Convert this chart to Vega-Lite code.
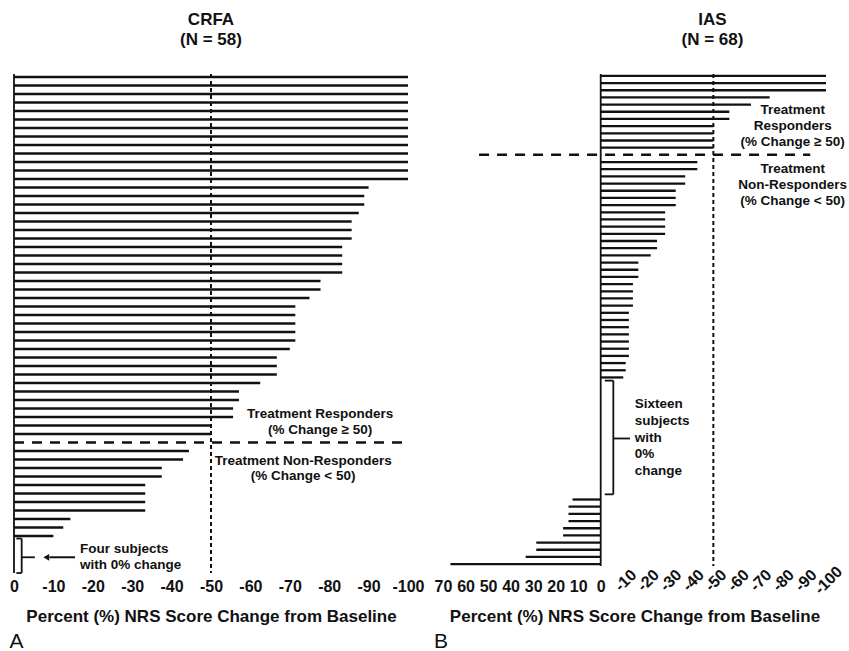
{
  "$schema": "https://vega.github.io/schema/vega-lite/v6.json",
  "background": "white",
  "padding": {"left": 9, "top": 11, "right": 0, "bottom": 0},
  "spacing": 9,
  "config": {
    "font": "Liberation Sans",
    "view": {"stroke": null},
    "axis": {"labelOverlap": false, "labelFlush": false, "ticks": false, "domain": false, "grid": false},
    "text": {"font": "Liberation Sans", "fontWeight": "bold", "color": "#111"}
  },
  "datasets": {
    "crfa": [
      {"id": "A01", "change": -100}, {"id": "A02", "change": -100}, {"id": "A03", "change": -100},
      {"id": "A04", "change": -100}, {"id": "A05", "change": -100}, {"id": "A06", "change": -100},
      {"id": "A07", "change": -100}, {"id": "A08", "change": -100}, {"id": "A09", "change": -100},
      {"id": "A10", "change": -100}, {"id": "A11", "change": -100}, {"id": "A12", "change": -100},
      {"id": "A13", "change": -100}, {"id": "A14", "change": -90}, {"id": "A15", "change": -88.9},
      {"id": "A16", "change": -88.9}, {"id": "A17", "change": -87.5}, {"id": "A18", "change": -85.7},
      {"id": "A19", "change": -85.7}, {"id": "A20", "change": -85.7}, {"id": "A21", "change": -83.3},
      {"id": "A22", "change": -83.3}, {"id": "A23", "change": -83.3}, {"id": "A24", "change": -83.3},
      {"id": "A25", "change": -77.8}, {"id": "A26", "change": -77.8}, {"id": "A27", "change": -75},
      {"id": "A28", "change": -71.4}, {"id": "A29", "change": -71.4}, {"id": "A30", "change": -71.4},
      {"id": "A31", "change": -71.4}, {"id": "A32", "change": -71.4}, {"id": "A33", "change": -70},
      {"id": "A34", "change": -66.7}, {"id": "A35", "change": -66.7}, {"id": "A36", "change": -66.7},
      {"id": "A37", "change": -62.5}, {"id": "A38", "change": -57.1}, {"id": "A39", "change": -57.1},
      {"id": "A40", "change": -55.6}, {"id": "A41", "change": -55.6}, {"id": "A42", "change": -50},
      {"id": "A43", "change": -50}, {"id": "A44", "change": -44.4}, {"id": "A45", "change": -42.9},
      {"id": "A46", "change": -37.5}, {"id": "A47", "change": -37.5}, {"id": "A48", "change": -33.3},
      {"id": "A49", "change": -33.3}, {"id": "A50", "change": -33.3}, {"id": "A51", "change": -33.3},
      {"id": "A52", "change": -14.3}, {"id": "A53", "change": -12.5}, {"id": "A54", "change": -10},
      {"id": "A55", "change": 0}, {"id": "A56", "change": 0}, {"id": "A57", "change": 0},
      {"id": "A58", "change": 0}
    ],
    "ias": [
      {"id": "B01", "change": -100}, {"id": "B02", "change": -100}, {"id": "B03", "change": -100},
      {"id": "B04", "change": -75}, {"id": "B05", "change": -66.7}, {"id": "B06", "change": -57.1},
      {"id": "B07", "change": -57.1}, {"id": "B08", "change": -50}, {"id": "B09", "change": -50},
      {"id": "B10", "change": -50}, {"id": "B11", "change": -50}, {"id": "B12", "change": -42.9},
      {"id": "B13", "change": -42.9}, {"id": "B14", "change": -37.5}, {"id": "B15", "change": -37.5},
      {"id": "B16", "change": -33.3}, {"id": "B17", "change": -33.3}, {"id": "B18", "change": -33.3},
      {"id": "B19", "change": -28.6}, {"id": "B20", "change": -28.6}, {"id": "B21", "change": -28.6},
      {"id": "B22", "change": -28.6}, {"id": "B23", "change": -25}, {"id": "B24", "change": -25},
      {"id": "B25", "change": -22.2}, {"id": "B26", "change": -16.7}, {"id": "B27", "change": -16.7},
      {"id": "B28", "change": -16.7}, {"id": "B29", "change": -14.3}, {"id": "B30", "change": -14.3},
      {"id": "B31", "change": -14.3}, {"id": "B32", "change": -14.3}, {"id": "B33", "change": -12.5},
      {"id": "B34", "change": -12.5}, {"id": "B35", "change": -12.5}, {"id": "B36", "change": -12.5},
      {"id": "B37", "change": -12.5}, {"id": "B38", "change": -12.5}, {"id": "B39", "change": -12.5},
      {"id": "B40", "change": -11.1}, {"id": "B41", "change": -11.1}, {"id": "B42", "change": -10},
      {"id": "B43", "change": 0}, {"id": "B44", "change": 0}, {"id": "B45", "change": 0},
      {"id": "B46", "change": 0}, {"id": "B47", "change": 0}, {"id": "B48", "change": 0},
      {"id": "B49", "change": 0}, {"id": "B50", "change": 0}, {"id": "B51", "change": 0},
      {"id": "B52", "change": 0}, {"id": "B53", "change": 0}, {"id": "B54", "change": 0},
      {"id": "B55", "change": 0}, {"id": "B56", "change": 0}, {"id": "B57", "change": 0},
      {"id": "B58", "change": 0}, {"id": "B59", "change": 12.5}, {"id": "B60", "change": 14.3},
      {"id": "B61", "change": 14.3}, {"id": "B62", "change": 14.3}, {"id": "B63", "change": 16.7},
      {"id": "B64", "change": 16.7}, {"id": "B65", "change": 28.6}, {"id": "B66", "change": 28.6},
      {"id": "B67", "change": 33.3}, {"id": "B68", "change": 66.7}
    ]
  },
  "hconcat": [
    {
      "title": {"text": "A", "orient": "bottom", "anchor": "start", "font": "Liberation Sans", "fontSize": 21, "fontWeight": "normal", "color": "#111", "offset": 7},
      "vconcat": [
        {
          "width": 394,
          "height": 499,
          "title": {"text": ["CRFA", "(N = 58)"], "font": "Liberation Sans", "fontSize": 17, "fontWeight": "bold", "color": "#111", "lineHeight": 20, "frame": "group", "anchor": "middle", "offset": 24},
          "resolve": {"axis": {"x": "independent"}},
          "layer": [
            {
              "data": {"name": "crfa"},
              "mark": {"type": "rule", "color": "#111", "strokeWidth": 2.3, "strokeCap": "butt"},
              "encoding": {
                "y": {
                  "field": "id", "type": "ordinal", "axis": null,
                  "scale": {"type": "point", "padding": 0.35, "domain": ["A01","A02","A03","A04","A05","A06","A07","A08","A09","A10","A11","A12","A13","A14","A15","A16","A17","A18","A19","A20","A21","A22","A23","A24","A25","A26","A27","A28","A29","A30","A31","A32","A33","A34","A35","A36","A37","A38","A39","A40","A41","A42","A43","Agap","A44","A45","A46","A47","A48","A49","A50","A51","A52","A53","A54","A55","A56","A57","A58"]}
                },
                "x": {
                  "field": "change", "type": "quantitative",
                  "scale": {"domain": [0, -100], "nice": false, "zero": false},
                  "axis": {
                    "orient": "bottom",
                    "values": [0, -10, -20, -30, -40, -50, -60, -70, -80, -90, -100],
                    "labelExpr": "'' + datum.value",
                    "domain": false, "ticks": false, "grid": false,
                    "labelFont": "Liberation Sans", "labelFontSize": 16, "labelFontWeight": "bold", "labelColor": "#111",
                    "labelBaseline": "middle", "labelPadding": 13, "labelFlush": false, "labelOverlap": false,
                    "title": "Percent (%) NRS Score Change from Baseline",
                    "titleFont": "Liberation Sans", "titleFontSize": 17, "titleFontWeight": "bold", "titleColor": "#111", "titlePadding": 14
                  }
                },
                "x2": {"datum": 0}
              }
            },
            {
              "data": {"values": [{}]},
              "mark": {"type": "rule", "color": "#111", "strokeWidth": 1.8},
              "encoding": {"x": {"datum": 0, "type": "quantitative", "axis": null}}
            },
            {
              "data": {"values": [{}]},
              "mark": {"type": "rule", "color": "#111", "strokeWidth": 2, "strokeDash": [4, 3]},
              "encoding": {"x": {"datum": -50, "type": "quantitative", "axis": null}}
            },
            {
              "data": {"values": [{}]},
              "mark": {"type": "rule", "color": "#111", "strokeWidth": 2.5, "strokeDash": [10, 8]},
              "encoding": {"y": {"datum": "Agap", "type": "ordinal", "axis": null}, "x": {"datum": 0, "type": "quantitative", "axis": null}, "x2": {"datum": -99}}
            },
            {
              "data": {"values": [{}]},
              "mark": {"type": "text", "text": ["Treatment Responders", "(% Change ≥ 50)"], "align": "center", "baseline": "middle", "fontSize": 13.5, "lineHeight": 16.3, "dy": -3},
              "encoding": {"x": {"datum": -77.7, "type": "quantitative", "axis": null}, "y": {"datum": "A41", "type": "ordinal", "axis": null}}
            },
            {
              "data": {"values": [{}]},
              "mark": {"type": "text", "text": ["Treatment Non-Responders", "(% Change < 50)"], "align": "center", "baseline": "middle", "fontSize": 13.5, "lineHeight": 15.7, "dy": 1},
              "encoding": {"x": {"datum": -73.4, "type": "quantitative", "axis": null}, "y": {"datum": "A45", "type": "ordinal", "axis": null}}
            },
            {
              "data": {"values": [{}]},
              "mark": {"type": "text", "text": ["Four subjects", "with 0% change"], "align": "left", "baseline": "middle", "fontSize": 13.5, "lineHeight": 16, "dy": 4},
              "encoding": {"x": {"datum": -16.75, "type": "quantitative", "axis": null}, "y": {"datum": "A55", "type": "ordinal", "axis": null}}
            },
            {
              "data": {"values": [{}]},
              "mark": {"type": "rule", "color": "#111", "strokeWidth": 1.8, "yOffset": -6, "y2Offset": 3},
              "encoding": {"x": {"datum": -1.95, "type": "quantitative", "axis": null}, "y": {"datum": "A55", "type": "ordinal", "axis": null}, "y2": {"datum": "A58"}}
            },
            {
              "data": {"values": [{}]},
              "mark": {"type": "rule", "color": "#111", "strokeWidth": 1.8, "yOffset": -6},
              "encoding": {"x": {"datum": -0.6, "type": "quantitative", "axis": null}, "x2": {"datum": -1.95}, "y": {"datum": "A55", "type": "ordinal", "axis": null}}
            },
            {
              "data": {"values": [{}]},
              "mark": {"type": "rule", "color": "#111", "strokeWidth": 1.8, "yOffset": 3},
              "encoding": {"x": {"datum": -0.6, "type": "quantitative", "axis": null}, "x2": {"datum": -1.95}, "y": {"datum": "A58", "type": "ordinal", "axis": null}}
            },
            {
              "data": {"values": [{}]},
              "mark": {"type": "rule", "color": "#111", "strokeWidth": 1.8, "yOffset": 4.25},
              "encoding": {"x": {"datum": -1.95, "type": "quantitative", "axis": null}, "x2": {"datum": -5.3}, "y": {"datum": "A56", "type": "ordinal", "axis": null}}
            },
            {
              "data": {"values": [{}]},
              "mark": {"type": "rule", "color": "#111", "strokeWidth": 2, "yOffset": 4.25},
              "encoding": {"x": {"datum": -9, "type": "quantitative", "axis": null}, "x2": {"datum": -15.5}, "y": {"datum": "A56", "type": "ordinal", "axis": null}}
            },
            {
              "data": {"values": [{}]},
              "mark": {"type": "point", "shape": "triangle-left", "filled": true, "color": "#111", "opacity": 1, "size": 45, "yOffset": 4.25},
              "encoding": {"x": {"datum": -8.2, "type": "quantitative", "axis": null}, "y": {"datum": "A56", "type": "ordinal", "axis": null}}
            }
          ]
        }
      ]
    },
    {
      "title": {"text": "B", "orient": "bottom", "anchor": "start", "font": "Liberation Sans", "fontSize": 21, "fontWeight": "normal", "color": "#111", "offset": 7},
      "vconcat": [
        {
          "width": 383,
          "height": 492,
          "title": {"text": ["IAS", "(N = 68)"], "font": "Liberation Sans", "fontSize": 17, "fontWeight": "bold", "color": "#111", "lineHeight": 20, "frame": "group", "anchor": "middle", "offset": 24, "dx": 78},
          "resolve": {"axis": {"x": "independent"}},
          "layer": [
            {
              "data": {"name": "ias"},
              "mark": {"type": "rule", "color": "#111", "strokeWidth": 2.3, "strokeCap": "butt"},
              "encoding": {
                "y": {
                  "field": "id", "type": "ordinal", "axis": null,
                  "scale": {"type": "point", "padding": 0.26, "domain": ["B01","B02","B03","B04","B05","B06","B07","B08","B09","B10","B11","Bgap","B12","B13","B14","B15","B16","B17","B18","B19","B20","B21","B22","B23","B24","B25","B26","B27","B28","B29","B30","B31","B32","B33","B34","B35","B36","B37","B38","B39","B40","B41","B42","B43","B44","B45","B46","B47","B48","B49","B50","B51","B52","B53","B54","B55","B56","B57","B58","B59","B60","B61","B62","B63","B64","B65","B66","B67","B68"]}
                },
                "x": {
                  "field": "change", "type": "quantitative",
                  "scale": {"domain": [70, -100], "nice": false, "zero": false},
                  "axis": {
                    "orient": "bottom",
                    "values": [70, 60, 50, 40, 30, 20, 10, 0],
                    "labelExpr": "'' + datum.value",
                    "domain": false, "ticks": false, "grid": false,
                    "labelFont": "Liberation Sans", "labelFontSize": 16, "labelFontWeight": "bold", "labelColor": "#111",
                    "labelBaseline": "middle", "labelPadding": 20, "labelFlush": false, "labelOverlap": false,
                    "title": "Percent (%) NRS Score Change from Baseline",
                    "titleFont": "Liberation Sans", "titleFontSize": 17, "titleFontWeight": "bold", "titleColor": "#111", "titlePadding": 14
                  }
                },
                "x2": {"datum": 0}
              }
            },
            {
              "data": {"values": [{}]},
              "mark": {"type": "rule", "color": "#111", "strokeWidth": 1.8},
              "encoding": {"x": {"datum": 0, "type": "quantitative", "axis": null}}
            },
            {
              "data": {"values": [{}]},
              "mark": {"type": "rule", "color": "#111", "strokeWidth": 2, "strokeDash": [4, 3]},
              "encoding": {
                "x": {
                  "datum": -50, "type": "quantitative",
                  "axis": {
                    "orient": "bottom",
                    "values": [-10, -20, -30, -40, -50, -60, -70, -80, -90, -100],
                    "labelExpr": "'' + datum.value",
                    "domain": false, "ticks": false, "grid": false,
                    "labelFont": "Liberation Sans", "labelFontSize": 16, "labelFontWeight": "bold", "labelColor": "#111",
                    "labelAngle": -45, "labelAlign": "center", "labelBaseline": "middle",
                    "labelPadding": 14, "labelOffset": 2, "labelFlush": false, "labelOverlap": false,
                    "title": null
                  }
                }
              }
            },
            {
              "data": {"values": [{}]},
              "mark": {"type": "rule", "color": "#111", "strokeWidth": 2.5, "strokeDash": [10, 8]},
              "encoding": {"y": {"datum": "Bgap", "type": "ordinal", "axis": null}, "x": {"datum": 54, "type": "quantitative", "axis": null}, "x2": {"datum": -93}}
            },
            {
              "data": {"values": [{}]},
              "mark": {"type": "text", "text": ["Treatment", "Responders", "(% Change ≥ 50)"], "align": "center", "baseline": "middle", "fontSize": 13.5, "lineHeight": 16.4, "dy": 5},
              "encoding": {"x": {"datum": -85.2, "type": "quantitative", "axis": null}, "y": {"datum": "B05", "type": "ordinal", "axis": null}}
            },
            {
              "data": {"values": [{}]},
              "mark": {"type": "text", "text": ["Treatment", "Non-Responders", "(% Change < 50)"], "align": "center", "baseline": "middle", "fontSize": 13.5, "lineHeight": 16, "dy": -0.7},
              "encoding": {"x": {"datum": -85.2, "type": "quantitative", "axis": null}, "y": {"datum": "B13", "type": "ordinal", "axis": null}}
            },
            {
              "data": {"values": [{}]},
              "mark": {"type": "text", "text": ["Sixteen", "subjects", "with", "0%", "change"], "align": "left", "baseline": "middle", "fontSize": 13.5, "lineHeight": 16.7, "dy": 5.4},
              "encoding": {"x": {"datum": -15.1, "type": "quantitative", "axis": null}, "y": {"datum": "B45", "type": "ordinal", "axis": null}}
            },
            {
              "data": {"values": [{}]},
              "mark": {"type": "rule", "color": "#111", "strokeWidth": 1.8, "yOffset": -4, "y2Offset": 2},
              "encoding": {"x": {"datum": -5.6, "type": "quantitative", "axis": null}, "y": {"datum": "B43", "type": "ordinal", "axis": null}, "y2": {"datum": "B58"}}
            },
            {
              "data": {"values": [{}]},
              "mark": {"type": "rule", "color": "#111", "strokeWidth": 1.8, "yOffset": -4},
              "encoding": {"x": {"datum": -1.8, "type": "quantitative", "axis": null}, "x2": {"datum": -5.6}, "y": {"datum": "B43", "type": "ordinal", "axis": null}}
            },
            {
              "data": {"values": [{}]},
              "mark": {"type": "rule", "color": "#111", "strokeWidth": 1.8, "yOffset": 2},
              "encoding": {"x": {"datum": -1.8, "type": "quantitative", "axis": null}, "x2": {"datum": -5.6}, "y": {"datum": "B58", "type": "ordinal", "axis": null}}
            },
            {
              "data": {"values": [{}]},
              "mark": {"type": "rule", "color": "#111", "strokeWidth": 1.8, "yOffset": 3.6},
              "encoding": {"x": {"datum": -5.6, "type": "quantitative", "axis": null}, "x2": {"datum": -13}, "y": {"datum": "B50", "type": "ordinal", "axis": null}}
            }
          ]
        }
      ]
    }
  ]
}
